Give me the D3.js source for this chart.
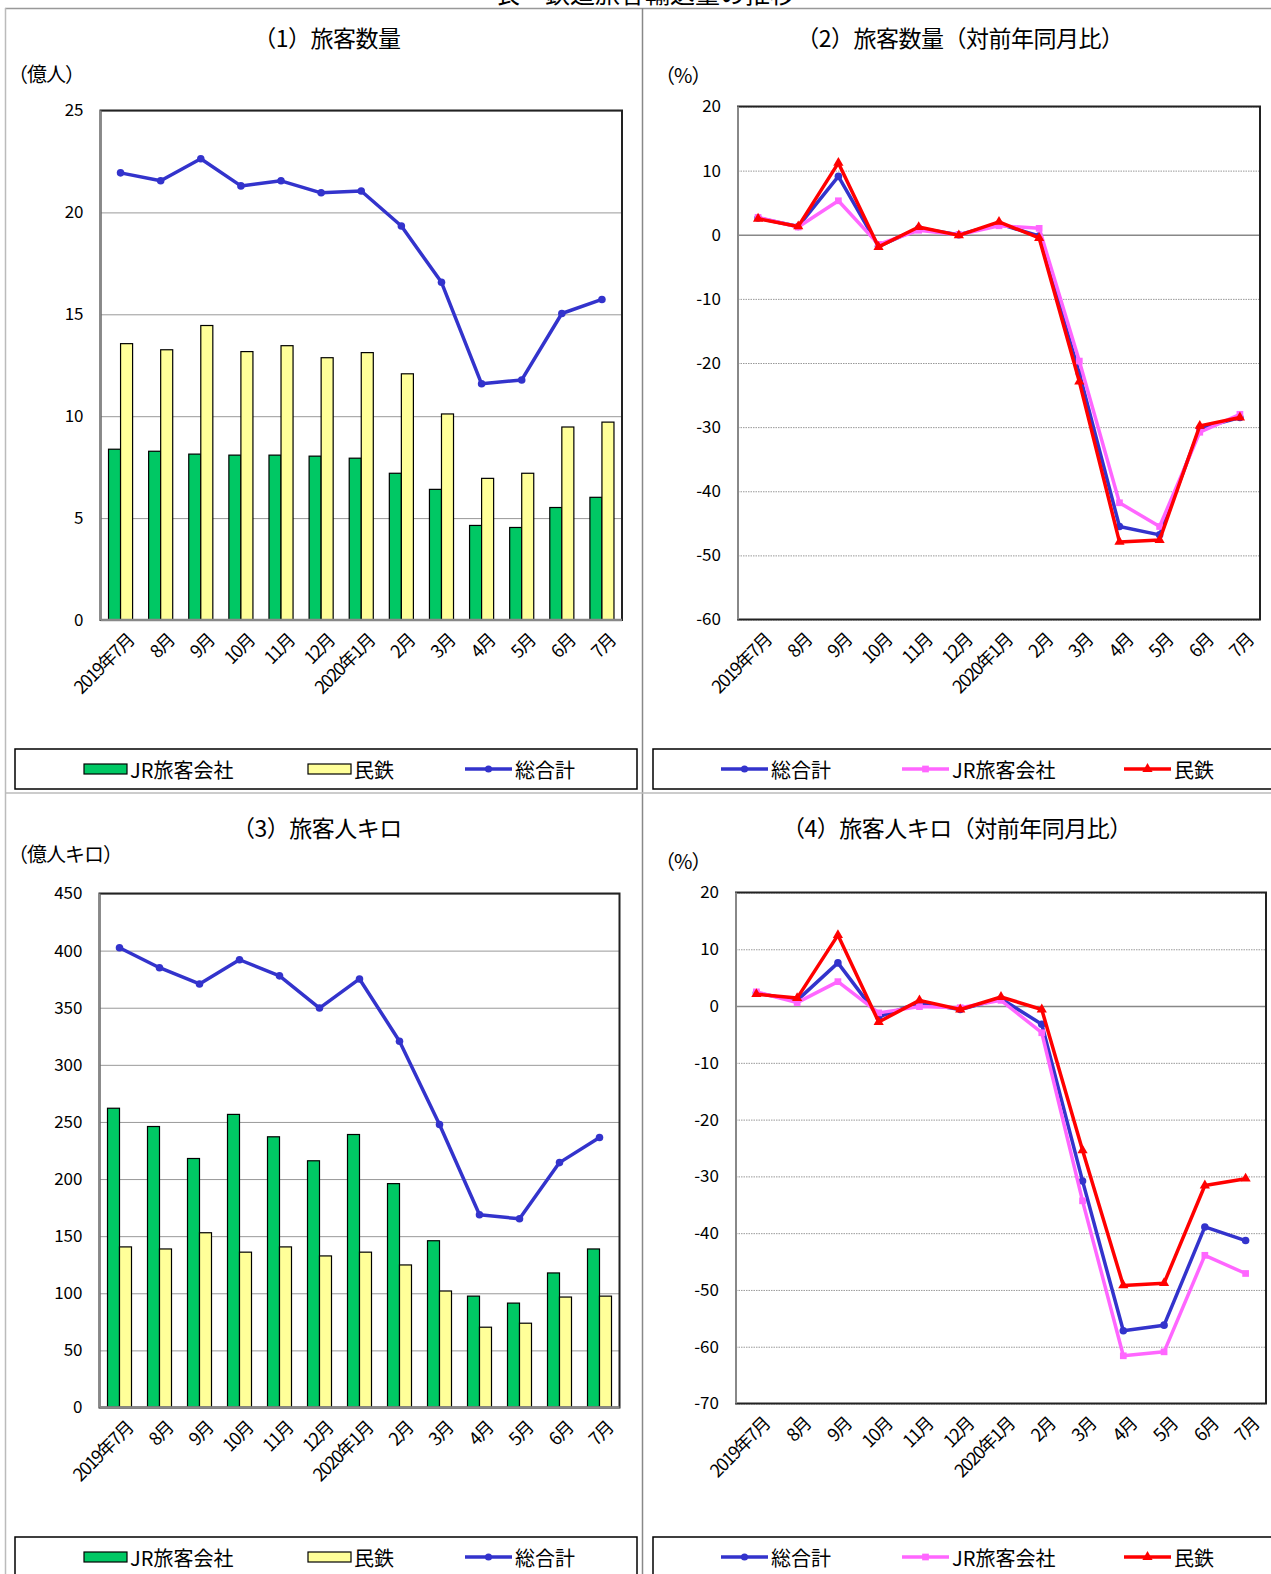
<!DOCTYPE html>
<html>
<head>
<meta charset="utf-8">
<script src="https://cdn.jsdelivr.net/npm/d3@7"></script>
<style>
  body { margin: 0; background: #fff; }
  svg text { font-family: "Noto Sans CJK JP", "Noto Sans", sans-serif; fill: #000; }
</style>
</head>
<body>
<svg id="chart" width="1271" height="1574"></svg>
<script>
const months = ["2019年7月", "8月", "9月", "10月", "11月", "12月", "2020年1月", "2月", "3月", "4月", "5月", "6月", "7月"];

// (1) 旅客数量 (億人)
const volJR = [8.38, 8.28, 8.14, 8.09, 8.09, 8.04, 7.94, 7.2, 6.41, 4.64, 4.54, 5.52, 6.02];
const volPrivate = [13.56, 13.26, 14.45, 13.17, 13.46, 12.87, 13.12, 12.08, 10.11, 6.95, 7.2, 9.47, 9.71];
const volTotal = [21.94, 21.55, 22.63, 21.3, 21.55, 20.96, 21.05, 19.33, 16.57, 11.59, 11.78, 15.04, 15.73];
const volTicks = [0, 5, 10, 15, 20, 25];

// (2) 旅客数量 対前年同月比 (%)
const volYoYTotal = [2.6, 1.3, 9.1, -1.8, 1.0, 0.0, 1.7, -0.2, -21.6, -45.5, -46.8, -30.2, -28.5];
const volYoYJR = [2.7, 1.2, 5.3, -1.5, 0.7, 0.0, 1.4, 1.0, -19.7, -41.8, -45.5, -30.8, -28.0];
const volYoYPrivate = [2.5, 1.3, 11.2, -1.9, 1.2, -0.1, 2.0, -0.5, -22.9, -47.9, -47.6, -29.8, -28.5];
const volYoYTicks = [-60, -50, -40, -30, -20, -10, 0, 10, 20];

// (3) 旅客人キロ (億人キロ)
const pkmJR = [262, 246, 218, 256.6, 237, 216, 239, 196, 146, 97.5, 91.4, 117.8, 138.8];
const pkmPrivate = [140.6, 138.8, 153, 136, 140.6, 132.7, 136, 124.8, 102, 70.3, 73.8, 96.7, 97.5];
const pkmTotal = [402.5, 385, 370.8, 392, 377.9, 349.7, 375.2, 320.7, 247.8, 168.7, 165.2, 214.4, 236.4];
const pkmTicks = [0, 50, 100, 150, 200, 250, 300, 350, 400, 450];

// (4) 旅客人キロ 対前年同月比 (%)
const pkmYoYTotal = [2.3, 1.0, 7.6, -1.9, 0.6, -0.6, 1.3, -3.2, -30.8, -57.2, -56.2, -38.9, -41.3];
const pkmYoYJR = [2.5, 0.6, 4.3, -1.2, -0.1, -0.3, 1.0, -4.7, -34.3, -61.6, -60.9, -43.9, -47.1];
const pkmYoYPrivate = [2.1, 1.4, 12.5, -2.8, 1.0, -0.6, 1.6, -0.6, -25.4, -49.2, -48.8, -31.6, -30.4];
const pkmYoYTicks = [-70, -60, -50, -40, -30, -20, -10, 0, 10, 20];

const GREEN = "#00c864", YELLOW = "#ffff99", BLUE = "#3333cc", PINK = "#ff66ff", RED = "#ff0000";

const svg = d3.select("#chart");

// outer frame
svg.append("line").attr("x1", 5).attr("x2", 1271).attr("y1", 8.5).attr("y2", 8.5).attr("stroke", "#999").attr("stroke-width", 1.5);
svg.append("line").attr("x1", 5.5).attr("x2", 5.5).attr("y1", 8).attr("y2", 1574).attr("stroke", "#bbb").attr("stroke-width", 1.5);
svg.append("line").attr("x1", 642.5).attr("x2", 642.5).attr("y1", 8).attr("y2", 1574).attr("stroke", "#888").attr("stroke-width", 1.5);
svg.append("line").attr("x1", 5).attr("x2", 1271).attr("y1", 793).attr("y2", 793).attr("stroke", "#bbb").attr("stroke-width", 1.5);

// page title, cut off at the top edge as in the source
svg.append("text").text("表　鉄道旅客輸送量の推移")
  .attr("x", 645).attr("y", 3).attr("text-anchor", "middle")
  .style("font-size", "25px").attr("fill", "#333");

function drawPanel(p) {
  const g = svg.append("g");

  g.append("text").text(p.title)
    .attr("x", p.titleX).attr("y", p.titleY)
    .attr("text-anchor", "middle").attr("dominant-baseline", "central")
    .style("font-size", "23px").style("letter-spacing", "-0.5px");
  g.append("text").text(p.unit)
    .attr("x", p.unitX).attr("y", p.unitY)
    .attr("dominant-baseline", "central")
    .style("font-size", "20px").style("letter-spacing", "-1px");

  const x = d3.scaleBand().domain(months).range([p.left, p.right]).paddingInner(0.4).paddingOuter(0.2);
  const y = d3.scaleLinear().domain(p.domain).range([p.bottom, p.top]);
  const cx = d => x(d) + x.bandwidth() / 2;

  // gridlines
  const grid = g.append("g")
    .attr("transform", `translate(${p.left},0)`)
    .call(d3.axisLeft(y).tickValues(p.ticks).tickSize(-(p.right - p.left)).tickFormat(""));
  grid.select(".domain").remove();
  grid.selectAll(".tick line")
    .attr("stroke", d => d === 0 && p.dotted ? "#888" : "#999")
    .attr("stroke-width", d => d === 0 && p.dotted ? 1.5 : 1)
    .attr("stroke-dasharray", d => (p.dotted && d !== 0) ? "1.5,1" : null);

  // tick labels
  const yAxis = g.append("g")
    .attr("transform", `translate(${p.left - 17},0)`)
    .call(d3.axisLeft(y).tickValues(p.ticks).tickSize(0).tickPadding(0).tickFormat(d => String(d)));
  yAxis.select(".domain").remove();
  yAxis.selectAll("text").style("font-size", "17px").attr("fill", "#000");

  // bars
  if (p.bars) {
    const inner = d3.scaleBand().domain([0, 1]).range([0, x.bandwidth()]);
    p.bars.forEach((series, si) => {
      g.append("g").selectAll("rect").data(months).join("rect")
        .attr("x", d => x(d) + inner(si))
        .attr("y", (d, i) => y(series.values[i]))
        .attr("width", inner.bandwidth())
        .attr("height", (d, i) => y(0) - y(series.values[i]))
        .attr("fill", series.color)
        .attr("stroke", "#000").attr("stroke-width", 1.2);
    });
  }

  // frame
  g.append("rect")
    .attr("x", p.left).attr("y", p.top)
    .attr("width", p.right - p.left).attr("height", p.bottom - p.top)
    .attr("fill", "none").attr("stroke", "#222").attr("stroke-width", 2);
  g.append("line")
    .attr("x1", p.left).attr("x2", p.left).attr("y1", p.top).attr("y2", p.bottom)
    .attr("stroke", "#888").attr("stroke-width", 2);
  if (p.bars) {
    g.append("line")
      .attr("x1", p.left).attr("x2", p.right).attr("y1", y(0)).attr("y2", y(0))
      .attr("stroke", "#888").attr("stroke-width", 2.5);
  }

  // lines
  p.lines.forEach(series => {
    const line = d3.line().x(d => cx(d)).y((d, i) => y(series.values[i]));
    g.append("path").datum(months)
      .attr("d", line)
      .attr("fill", "none").attr("stroke", series.color)
      .attr("stroke-width", 3.5).attr("stroke-linejoin", "round");
    g.append("g").selectAll("path").data(months).join("path")
      .attr("transform", (d, i) => `translate(${cx(d)},${y(series.values[i])})`)
      .attr("d", d3.symbol().type(series.symbol).size(series.size))
      .attr("fill", series.color);
  });

  // x labels
  g.append("g").selectAll("text").data(months).join("text")
    .text(d => d)
    .attr("transform", d => `translate(${cx(d) + 9},${p.bottom + 16}) rotate(-45)`)
    .attr("text-anchor", "end")
    .attr("dominant-baseline", "central")
    .style("font-size", "18px")
    .style("letter-spacing", "-1.5px");

  // legend
  g.append("rect")
    .attr("x", p.legX).attr("y", p.legY)
    .attr("width", p.legW).attr("height", 40)
    .attr("fill", "#fff").attr("stroke", "#000").attr("stroke-width", 1.5);
  const ly = p.legY + 20;
  p.legend.forEach(item => {
    if (item.type === "bar") {
      g.append("rect")
        .attr("x", item.x).attr("y", ly - 5)
        .attr("width", 43).attr("height", 10)
        .attr("fill", item.color).attr("stroke", "#000").attr("stroke-width", 1.2);
    } else {
      g.append("line")
        .attr("x1", item.x).attr("x2", item.x + 47).attr("y1", ly).attr("y2", ly)
        .attr("stroke", item.color).attr("stroke-width", 3.5);
      g.append("path")
        .attr("transform", `translate(${item.x + 23.5},${ly})`)
        .attr("d", d3.symbol().type(item.symbol).size(item.size))
        .attr("fill", item.color);
    }
    g.append("text").text(item.label)
      .attr("x", item.x + (item.type === "bar" ? 46 : 50)).attr("y", ly)
      .attr("dominant-baseline", "central")
      .style("font-size", "20px");
  });
}

const totalLine = v => ({ values: v, color: BLUE, symbol: d3.symbolCircle, size: 45 });
const jrLine = v => ({ values: v, color: PINK, symbol: d3.symbolSquare, size: 45 });
const privLine = v => ({ values: v, color: RED, symbol: d3.symbolTriangle, size: 45 });

const barLegend = [
  { type: "bar", label: "JR旅客会社", color: GREEN, x: 84 },
  { type: "bar", label: "民鉄", color: YELLOW, x: 308 },
  { type: "line", label: "総合計", color: BLUE, symbol: d3.symbolCircle, size: 40, x: 465 }
];
const yoyLegend = [
  { type: "line", label: "総合計", color: BLUE, symbol: d3.symbolCircle, size: 40, x: 721 },
  { type: "line", label: "JR旅客会社", color: PINK, symbol: d3.symbolSquare, size: 45, x: 902 },
  { type: "line", label: "民鉄", color: RED, symbol: d3.symbolTriangle, size: 45, x: 1124 }
];

drawPanel({
  title: "（1）旅客数量", titleX: 327, titleY: 37,
  unit: "（億人）", unitX: 8, unitY: 73,
  left: 100.5, right: 622, top: 110.5, bottom: 620, domain: [0, 25], ticks: volTicks,
  bars: [{ values: volJR, color: GREEN }, { values: volPrivate, color: YELLOW }],
  lines: [totalLine(volTotal)],
  legX: 15, legY: 749, legW: 622, legend: barLegend
});

drawPanel({
  title: "（2）旅客数量（対前年同月比）", titleX: 960, titleY: 37,
  unit: "（%）", unitX: 655, unitY: 74,
  left: 738, right: 1260, top: 106.5, bottom: 619.5, domain: [-60, 20], ticks: volYoYTicks,
  dotted: true,
  lines: [totalLine(volYoYTotal), jrLine(volYoYJR), privLine(volYoYPrivate)],
  legX: 653, legY: 749, legW: 640, legend: yoyLegend
});

drawPanel({
  title: "（3）旅客人キロ", titleX: 317, titleY: 827,
  unit: "（億人キロ）", unitX: 8, unitY: 853,
  left: 99.5, right: 619.5, top: 893.5, bottom: 1407.5, domain: [0, 450], ticks: pkmTicks,
  bars: [{ values: pkmJR, color: GREEN }, { values: pkmPrivate, color: YELLOW }],
  lines: [totalLine(pkmTotal)],
  legX: 15, legY: 1537, legW: 622, legend: barLegend
});

drawPanel({
  title: "（4）旅客人キロ（対前年同月比）", titleX: 957, titleY: 827,
  unit: "（%）", unitX: 655, unitY: 860,
  left: 736, right: 1266, top: 892.5, bottom: 1403.5, domain: [-70, 20], ticks: pkmYoYTicks,
  dotted: true,
  lines: [totalLine(pkmYoYTotal), jrLine(pkmYoYJR), privLine(pkmYoYPrivate)],
  legX: 653, legY: 1537, legW: 640, legend: yoyLegend
});
</script>
</body>
</html>
